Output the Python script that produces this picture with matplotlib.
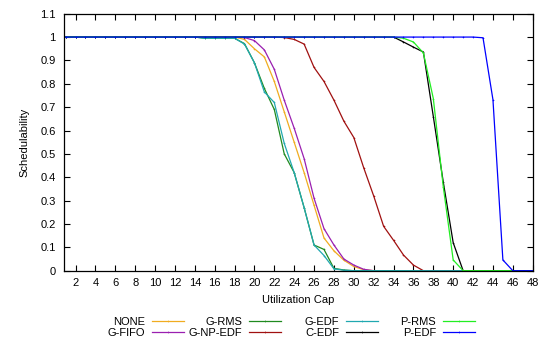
import matplotlib
matplotlib.use("Agg")
import matplotlib.pyplot as plt
import numpy as np

plt.rcParams["font.family"] = ["Liberation Sans", "DejaVu Sans"]
plt.rcParams["font.size"] = 8

caps = list(range(1, 49))

none_vals = [1] * 18 + [0.99, 0.95, 0.915, 0.81, 0.68, 0.55, 0.42, 0.28, 0.14, 0.085,
                        0.045, 0.018, 0.004] + [0] * 17
gfifo_vals = [1] * 18 + [0.998, 0.985, 0.945, 0.862, 0.73, 0.61, 0.48, 0.31, 0.18, 0.11,
                         0.05, 0.024, 0.006] + [0] * 17
grms_vals = [1] * 14 + [0.995] * 4 + [0.972, 0.89, 0.78, 0.69, 0.50, 0.42, 0.27, 0.11,
                                      0.091, 0.01, 0.003] + [0] * 19
gnpedf_vals = [1] * 22 + [0.998, 0.99, 0.97, 0.87, 0.81, 0.73, 0.64, 0.57, 0.44, 0.32,
                          0.19, 0.13, 0.067, 0.024] + [0] * 12
gedf_vals = [1] * 14 + [0.995] * 4 + [0.97, 0.89, 0.765, 0.72, 0.545, 0.42, 0.27, 0.11,
                                      0.065, 0.008, 0.002] + [0] * 19
cedf_vals = [1] * 34 + [0.979, 0.957, 0.936, 0.66, 0.38, 0.12] + [0] * 8
prms_vals = [1] * 34 + [0.995, 0.979, 0.932, 0.737, 0.36, 0.046] + [0] * 8
pedf_vals = [1] * 42 + [0.997, 0.732, 0.046] + [0] * 3

series = [
    ("NONE", none_vals, "#f0ac20"),
    ("G-FIFO", gfifo_vals, "#9a1fb0"),
    ("G-RMS", grms_vals, "#1f8a1f"),
    ("G-NP-EDF", gnpedf_vals, "#a01010"),
    ("G-EDF", gedf_vals, "#20a8b0"),
    ("C-EDF", cedf_vals, "#000000"),
    ("P-RMS", prms_vals, "#22ee22"),
    ("P-EDF", pedf_vals, "#0000ff"),
]

fig = plt.figure(figsize=(5.43, 3.41), dpi=100)
ax = fig.add_axes([0.11786, 0.20616, 0.86317, 0.75366])

lines = []
for name, vals, col in series:
    ln, = ax.plot(caps, vals, color=col, lw=0.9, marker="+", ms=1.8, mew=0.4, label=name)
    lines.append(ln)

ax.set_xlim(0.84, 48)
ax.set_ylim(0, 1.1)
ax.set_xticks(range(2, 49, 2))
yt = np.round(np.arange(0, 1.11, 0.1), 1)
ax.set_yticks(yt)
ax.set_yticklabels(["0" if v == 0 else ("1" if v == 1 else f"{v:g}") for v in yt])
ax.tick_params(direction="in", length=4, width=0.8, top=True, right=True)
ax.tick_params(axis="x", pad=5)
ax.tick_params(axis="y", pad=6)
for s in ax.spines.values():
    s.set_linewidth(0.9)

ax.set_xlabel("Utilization Cap", labelpad=5)
ax.set_ylabel("Schedulability", labelpad=8)

# legend: four columns, text on the left of the sample like gnuplot
col_right = [184, 281, 378, 475]
for i, xr in enumerate(col_right):
    hs = lines[2 * i:2 * i + 2]
    leg = fig.legend(handles=hs, labels=[h.get_label() for h in hs],
                     loc="center right", bbox_to_anchor=(xr / 543, 1 - 327.5 / 341),
                     frameon=False, markerfirst=False, handlelength=2.88,
                     handletextpad=0.63, labelspacing=0.12, borderpad=0,
                     borderaxespad=0, numpoints=1)

fig.savefig("out.png", dpi=100)
